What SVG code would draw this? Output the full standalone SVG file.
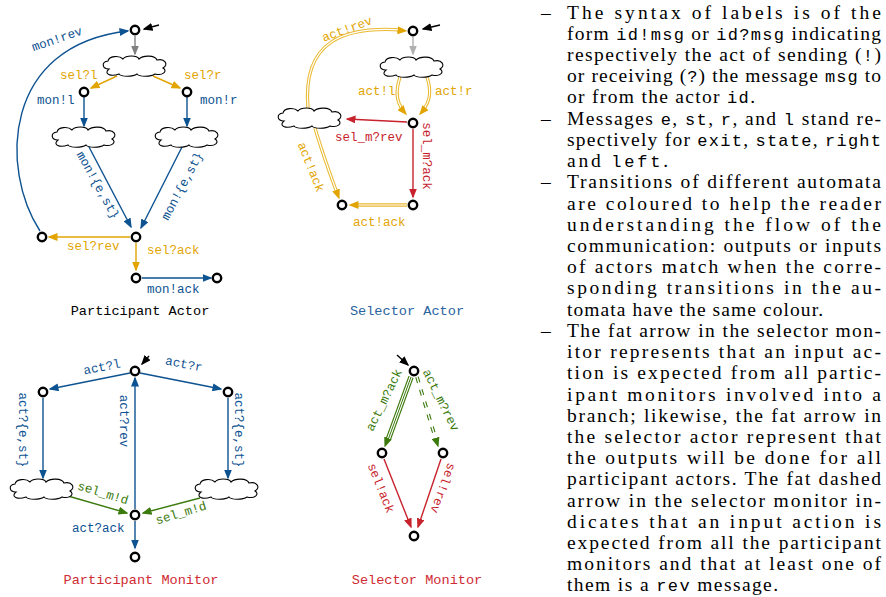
<svg xmlns="http://www.w3.org/2000/svg" width="886" height="597" viewBox="0 0 886 597">
<defs>
<style>
.lbl{font-family:"Liberation Mono","DejaVu Sans Mono",monospace;font-size:12.5px}
.ttl{font-family:"Liberation Mono","DejaVu Sans Mono",monospace;font-size:13.6px;text-anchor:middle}
.mid{text-anchor:middle}
.body{font-family:"Liberation Serif","Times New Roman",serif;font-size:19.5px;fill:#000}
.tt{font-family:"Liberation Mono","Courier New",monospace;font-size:17px}
.st{fill:#fff;stroke:#000;stroke-width:2.4}
.cl{fill:#fff;stroke:#000;stroke-width:1.1}
.e{fill:none;stroke-width:1.4}
.blue{stroke:#0d5291}.bt{fill:#0d5291}
.or{stroke:#e2a400}.ot{fill:#e2a400}
.red{stroke:#c8232c}.rt{fill:#c8232c}
.gr{stroke:#3b7a0c}.gt{fill:#3b7a0c}
.fat{fill:none;stroke:#e9b930;stroke-width:3.3}
.fatw{fill:none;stroke:#fff;stroke-width:1.2}
.mk{fill:none;stroke:none}
</style>
<marker id="mb" viewBox="0 0 10 8" refX="8.5" refY="4" markerWidth="10" markerHeight="8" markerUnits="userSpaceOnUse" orient="auto"><path d="M0,0 L10,4 L0,8 Z" fill="#0d5291"/></marker>
<marker id="mo" viewBox="0 0 10 8" refX="8.5" refY="4" markerWidth="10" markerHeight="8" markerUnits="userSpaceOnUse" orient="auto"><path d="M0,0 L10,4 L0,8 Z" fill="#e2a400"/></marker>
<marker id="mr" viewBox="0 0 10 8" refX="8.5" refY="4" markerWidth="10" markerHeight="8" markerUnits="userSpaceOnUse" orient="auto"><path d="M0,0 L10,4 L0,8 Z" fill="#c8232c"/></marker>
<marker id="mg" viewBox="0 0 10 8" refX="8.5" refY="4" markerWidth="10" markerHeight="8" markerUnits="userSpaceOnUse" orient="auto"><path d="M0,0 L10,4 L0,8 Z" fill="#3b7a0c"/></marker>
<marker id="mgy" viewBox="0 0 10 8" refX="8.5" refY="4" markerWidth="10" markerHeight="8" markerUnits="userSpaceOnUse" orient="auto"><path d="M0,0 L10,4 L0,8 Z" fill="#808080"/></marker>
<marker id="mlg" viewBox="0 0 10 8" refX="8.5" refY="4" markerWidth="10" markerHeight="8" markerUnits="userSpaceOnUse" orient="auto"><path d="M0,0 L10,4 L0,8 Z" fill="#b0b0b0"/></marker>
<marker id="mk" viewBox="0 0 10 8" refX="8.5" refY="4" markerWidth="10" markerHeight="8" markerUnits="userSpaceOnUse" orient="auto"><path d="M0,0 L10,4 L0,8 Z" fill="#000"/></marker>
<path id="cloud" d="M-26,3 C-33,3 -34,-4 -27,-5 C-26,-10 -16,-11 -12,-7 C-9,-11 2,-11 4,-7 C8,-11 20,-11 22,-6 C30,-8 34,-1 28,2 C33,5 28,10 20,8 C16,11 4,11 2,8 C-2,11 -14,11 -16,8 C-24,11 -32,8 -26,3 Z"/>
</defs>
<rect width="886" height="597" fill="#fff"/>

<!-- ============ connectors ============ -->
<g id="connectors">
  <!-- Participant Actor -->
  <path class="e" stroke="#000" d="M159,25 L144,29" marker-end="url(#mk)"/>
  <path class="e" stroke="#808080" d="M135,36 L135,54" marker-end="url(#mgy)"/>
  <path class="e or" d="M117,76 L91,88" marker-end="url(#mo)"/>
  <path class="e or" d="M153,76 L180,88" marker-end="url(#mo)"/>
  <path class="e blue" d="M84,97 L84,126" marker-end="url(#mb)"/>
  <path class="e blue" d="M187,97 L187,126" marker-end="url(#mb)"/>
  <path class="e blue" d="M89,147 L131,227" marker-end="url(#mb)"/>
  <path class="e blue" d="M182,147 L141,228" marker-end="url(#mb)"/>
  <path class="e or" d="M130,237 L49,237" marker-end="url(#mo)"/>
  <path class="e or" d="M136,243 L136,270" marker-end="url(#mo)"/>
  <path class="e blue" d="M142,278 L211,278" marker-end="url(#mb)"/>
  <path class="e blue" d="M40,231 C0,170 2,45 128,31" marker-end="url(#mb)"/>

  <!-- Selector Actor -->
  <path class="e" stroke="#000" d="M440,25 L423,29" marker-end="url(#mk)"/>
  <path class="e" stroke="#b0b0b0" d="M413,37 L413,54" marker-end="url(#mlg)"/>
  <path class="fat" d="M400,77 C394,95 398,104 403,110"/>
  <path class="fatw" d="M400,77 C394,95 398,104 403,110"/>
  <path class="mk" d="M400,77 C394,95 399,106 406,114" marker-end="url(#mo)"/>
  <path class="fat" d="M427,77 C433,95 428,104 423,110"/>
  <path class="fatw" d="M427,77 C433,95 428,104 423,110"/>
  <path class="mk" d="M427,77 C433,95 427,106 420,114" marker-end="url(#mo)"/>
  <path class="e red" d="M407,122 L347,119" marker-end="url(#mr)"/>
  <path class="e red" d="M413,129 L413,197" marker-end="url(#mr)"/>
  <path class="fat" d="M407,205 L354,205"/>
  <path class="fatw" d="M407,205 L354,205"/>
  <path class="mk" d="M407,205 L350,205" marker-end="url(#mo)"/>
  <path class="fat" d="M315,128 C322,152 330,174 337,193"/>
  <path class="fatw" d="M315,128 C322,152 330,174 337,193"/>
  <path class="mk" d="M315,128 C322,152 331,177 339,198" marker-end="url(#mo)"/>
  <path class="fat" d="M308,108 C302,40 345,26 402,30"/>
  <path class="fatw" d="M308,108 C302,40 345,26 402,30"/>
  <path class="mk" d="M308,108 C302,40 345,26 406,31" marker-end="url(#mo)"/>

  <!-- Participant Monitor -->
  <path class="e" stroke="#000" d="M149,356 L142,364" marker-end="url(#mk)"/>
  <path class="e blue" d="M130,373 L50,389" marker-end="url(#mb)"/>
  <path class="e blue" d="M140,373 L221,389" marker-end="url(#mb)"/>
  <path class="e blue" d="M43,398 L43,478" marker-end="url(#mb)"/>
  <path class="e blue" d="M228,398 L228,478" marker-end="url(#mb)"/>
  <path class="e blue" d="M135,509 L135,378" marker-end="url(#mb)"/>
  <path class="e gr" d="M68,496 L127,513" marker-end="url(#mg)"/>
  <path class="e gr" d="M200,498 L143,513" marker-end="url(#mg)"/>
  <path class="e blue" d="M135,521 L135,548" marker-end="url(#mb)"/>

  <!-- Selector Monitor -->
  <path class="e" stroke="#000" d="M397,355 L408,365" marker-end="url(#mk)"/>
  <path fill="none" stroke="#3b7a0c" stroke-width="5.4" d="M411,377 L388,440"/>
  <path fill="none" stroke="#fff" stroke-width="3.2" d="M411,377 L388,440"/>
  <path fill="none" stroke="#3b7a0c" stroke-width="1" d="M411,377 L388,440"/>
  <path class="mk" d="M411,377 L385,446" marker-end="url(#mg)"/>
  <path fill="none" stroke="#3b7a0c" stroke-width="3.6" stroke-dasharray="6 7" d="M417,377 L436,440"/>
  <path fill="none" stroke="#fff" stroke-width="1.4" d="M417,377 L436,440"/>
  <path class="mk" d="M417,377 L438,446" marker-end="url(#mg)"/>
  <path class="e red" d="M384,459 L411,527" marker-end="url(#mr)"/>
  <path class="e red" d="M441,459 L418,527" marker-end="url(#mr)"/>
</g>

<!-- ============ Participant Actor nodes ============ -->
<g id="pa-s0"><circle class="st" cx="135" cy="30" r="4.2"/></g>
<g id="pa-c0"><use href="#cloud" class="cl" transform="translate(135,66)"/></g>
<g id="pa-s1"><circle class="st" cx="84" cy="92" r="4.2"/></g>
<g id="pa-s2"><circle class="st" cx="187" cy="92" r="4.2"/></g>
<g id="pa-c1"><use href="#cloud" class="cl" transform="translate(84,137)"/></g>
<g id="pa-c2"><use href="#cloud" class="cl" transform="translate(187,137)"/></g>
<g id="pa-s3"><circle class="st" cx="136" cy="237" r="4.2"/></g>
<g id="pa-s4"><circle class="st" cx="42" cy="237" r="4.2"/></g>
<g id="pa-s5"><circle class="st" cx="136" cy="278" r="4.2"/></g>
<g id="pa-s6"><circle class="st" cx="217" cy="278" r="4.2"/></g>

<g id="pa-labels" class="lbl">
  <text class="bt mid" transform="translate(57,39) rotate(-19)" y="4">mon!rev</text>
  <text class="ot" x="60" y="79">sel?l</text>
  <text class="ot" x="184" y="79">sel?r</text>
  <text class="bt" x="37" y="104">mon!l</text>
  <text class="bt" x="200" y="104">mon!r</text>
  <text class="bt mid" transform="translate(98,185) rotate(61)" y="4">mon!{e,st}</text>
  <text class="bt mid" transform="translate(182,186) rotate(-62)" y="4">mon!{e,st}</text>
  <text class="ot" x="67" y="250">sel?rev</text>
  <text class="ot" x="147" y="254">sel?ack</text>
  <text class="bt" x="147" y="293">mon!ack</text>
  <text class="ttl" x="140" y="315" fill="#000">Participant Actor</text>
</g>

<!-- ============ Selector Actor nodes ============ -->
<g id="sa-s0"><circle class="st" cx="413" cy="31" r="4.2"/></g>
<g id="sa-c0"><use href="#cloud" class="cl" transform="translate(412,67)"/></g>
<g id="sa-s1"><circle class="st" cx="413" cy="123" r="4.2"/></g>
<g id="sa-c1"><use href="#cloud" class="cl" transform="translate(310,118)"/></g>
<g id="sa-s2"><circle class="st" cx="413" cy="205" r="4.2"/></g>
<g id="sa-s3"><circle class="st" cx="342" cy="205" r="4.2"/></g>

<g id="sa-labels" class="lbl">
  <text class="ot mid" transform="translate(347,29) rotate(-20)" y="4">act!rev</text>
  <text class="ot" x="358" y="95">act!l</text>
  <text class="ot" x="435" y="95">act!r</text>
  <text class="rt" x="335" y="141">sel_m?rev</text>
  <text class="rt mid" transform="translate(423,156) rotate(90)">sel_m?ack</text>
  <text class="ot mid" transform="translate(311,167) rotate(68)" y="4">act!ack</text>
  <text class="ot" x="353" y="226">act!ack</text>
  <text class="ttl" x="407" y="315" fill="#2a64a0">Selector Actor</text>
</g>

<!-- ============ Participant Monitor nodes ============ -->
<g id="pm-s0"><circle class="st" cx="135" cy="371" r="4.2"/></g>
<g id="pm-s1"><circle class="st" cx="43" cy="392" r="4.2"/></g>
<g id="pm-s2"><circle class="st" cx="228" cy="392" r="4.2"/></g>
<g id="pm-c0"><use href="#cloud" class="cl" transform="translate(42,489)"/></g>
<g id="pm-c1"><use href="#cloud" class="cl" transform="translate(227,489)"/></g>
<g id="pm-s3"><circle class="st" cx="135" cy="515" r="4.2"/></g>
<g id="pm-s4"><circle class="st" cx="135" cy="557" r="4.2"/></g>

<g id="pm-labels" class="lbl">
  <text class="bt mid" transform="translate(102,367) rotate(-11)" y="4">act?l</text>
  <text class="bt mid" transform="translate(184,364) rotate(11)" y="4">act?r</text>
  <text class="bt mid" transform="translate(19,430) rotate(90)">act?{e,st}</text>
  <text class="bt mid" transform="translate(235,430) rotate(90)">act?{e,st}</text>
  <text class="bt mid" transform="translate(120,421) rotate(90)">act?rev</text>
  <text class="gt mid" transform="translate(103,493) rotate(17)" y="4">sel_m!d</text>
  <text class="gt mid" transform="translate(181,513) rotate(-17)" y="4">sel_m!d</text>
  <text class="bt" x="72" y="532">act?ack</text>
  <text class="ttl" x="141" y="584" fill="#d02a33">Participant Monitor</text>
</g>

<!-- ============ Selector Monitor nodes ============ -->
<g id="sm-s0"><circle class="st" cx="414" cy="371" r="4.2"/></g>
<g id="sm-s1"><circle class="st" cx="382" cy="453" r="4.2"/></g>
<g id="sm-s2"><circle class="st" cx="443" cy="453" r="4.2"/></g>
<g id="sm-s3"><circle class="st" cx="414" cy="536" r="4.2"/></g>

<g id="sm-labels" class="lbl">
  <text class="gt mid" transform="translate(384,400) rotate(-64)" y="4">act_m?ack</text>
  <text class="gt mid" transform="translate(441,400) rotate(64)" y="4">act_m?rev</text>
  <text class="rt mid" transform="translate(381,488) rotate(68)" y="4">sel!ack</text>
  <text class="rt mid" transform="translate(443,488) rotate(110)" y="4">sel!rev</text>
  <text class="ttl" x="417" y="584" fill="#d02a33">Selector Monitor</text>
</g>

<!-- ============ Explanatory text ============ -->
<g id="notes" class="body">
  <text x="541" y="18.5">–</text>
  <text x="541" y="124.6">–</text>
  <text x="541" y="188.3">–</text>
  <text x="541" y="336.8">–</text>
  <text x="567" y="18.5" textLength="314" lengthAdjust="spacing">The syntax of labels is of the</text>
  <text x="567" y="39.7" textLength="314" lengthAdjust="spacing">form <tspan class="tt">id!msg</tspan> or <tspan class="tt">id?msg</tspan> indicating</text>
  <text x="567" y="60.9" textLength="314" lengthAdjust="spacing">respectively the act of sending (<tspan class="tt">!</tspan>)</text>
  <text x="567" y="82.2" textLength="314" lengthAdjust="spacing">or receiving (<tspan class="tt">?</tspan>) the message <tspan class="tt">msg</tspan> to</text>
  <text x="567" y="103.4" textLength="188" lengthAdjust="spacing">or from the actor <tspan class="tt">id</tspan>.</text>
  <text x="567" y="124.6" textLength="314" lengthAdjust="spacing">Messages <tspan class="tt">e</tspan>, <tspan class="tt">st</tspan>, <tspan class="tt">r</tspan>, and <tspan class="tt">l</tspan> stand re-</text>
  <text x="567" y="145.8" textLength="314" lengthAdjust="spacing">spectively for <tspan class="tt">exit</tspan>, <tspan class="tt">state</tspan>, <tspan class="tt">right</tspan></text>
  <text x="567" y="167.0" textLength="101" lengthAdjust="spacing">and <tspan class="tt">left</tspan>.</text>
  <text x="567" y="188.3" textLength="314" lengthAdjust="spacing">Transitions of different automata</text>
  <text x="567" y="209.5" textLength="314" lengthAdjust="spacing">are coloured to help the reader</text>
  <text x="567" y="230.7" textLength="314" lengthAdjust="spacing">understanding the flow of the</text>
  <text x="567" y="251.9" textLength="314" lengthAdjust="spacing">communication: outputs or inputs</text>
  <text x="567" y="273.1" textLength="314" lengthAdjust="spacing">of actors match when the corre-</text>
  <text x="567" y="294.4" textLength="314" lengthAdjust="spacing">sponding transitions in the au-</text>
  <text x="567" y="315.6" textLength="256" lengthAdjust="spacing">tomata have the same colour.</text>
  <text x="567" y="336.8" textLength="314" lengthAdjust="spacing">The fat arrow in the selector mon-</text>
  <text x="567" y="358.0" textLength="314" lengthAdjust="spacing">itor represents that an input ac-</text>
  <text x="567" y="379.2" textLength="314" lengthAdjust="spacing">tion is expected from all partic-</text>
  <text x="567" y="400.5" textLength="314" lengthAdjust="spacing">ipant monitors involved into a</text>
  <text x="567" y="421.7" textLength="314" lengthAdjust="spacing">branch; likewise, the fat arrow in</text>
  <text x="567" y="442.9" textLength="314" lengthAdjust="spacing">the selector actor represent that</text>
  <text x="567" y="464.1" textLength="314" lengthAdjust="spacing">the outputs will be done for all</text>
  <text x="567" y="485.3" textLength="314" lengthAdjust="spacing">participant actors. The fat dashed</text>
  <text x="567" y="506.6" textLength="314" lengthAdjust="spacing">arrow in the selector monitor in-</text>
  <text x="567" y="527.8" textLength="314" lengthAdjust="spacing">dicates that an input action is</text>
  <text x="567" y="549.0" textLength="314" lengthAdjust="spacing">expected from all the participant</text>
  <text x="567" y="570.2" textLength="314" lengthAdjust="spacing">monitors and that at least one of</text>
  <text x="567" y="591.4" textLength="211" lengthAdjust="spacing">them is a <tspan class="tt">rev</tspan> message.</text>
</g>
</svg>
